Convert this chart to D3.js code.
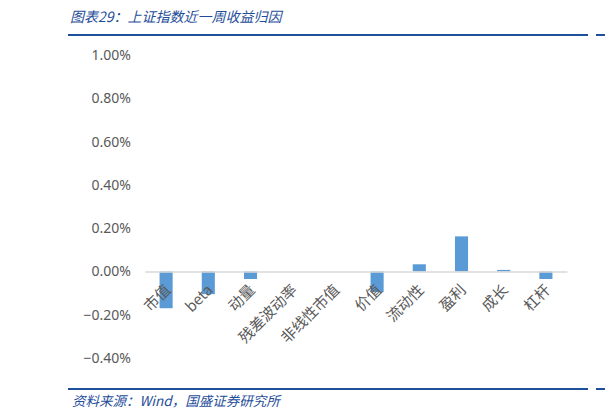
<!DOCTYPE html>
<html><head><meta charset="utf-8">
<script src="https://cdn.jsdelivr.net/npm/d3@7/dist/d3.min.js"></script>
<style>body{margin:0;background:#fff}svg{display:block}</style>
</head><body><svg id="c" width="605" height="420"></svg>
<script>
const categories = ["市值","beta","动量","残差波动率","非线性市值","价值","流动性","盈利","成长","杠杆"];
const values = [-0.17, -0.105, -0.035, 0, 0, -0.095, 0.033, 0.162, 0.007, -0.035];
const yTicks = [-0.4, -0.2, 0, 0.2, 0.4, 0.6, 0.8, 1.0];
const title = "图表29：上证指数近一周收益归因";
const source = "资料来源：Wind，国盛证券研究所";

const svg = d3.select("#c");
const font = "'Noto Sans CJK SC','Microsoft YaHei',sans-serif";
const blue = "#1F4E9A";

svg.append("text").attr("x",70).attr("y",22).attr("fill",blue)
  .attr("font-family",font).attr("font-size",14).attr("font-style","italic").text(title);
svg.append("line").attr("x1",68).attr("x2",588).attr("y1",35).attr("y2",35).attr("stroke",blue).attr("stroke-width",2);
svg.append("line").attr("x1",596).attr("x2",605).attr("y1",35).attr("y2",35).attr("stroke",blue).attr("stroke-width",2);
svg.append("line").attr("x1",68).attr("x2",588).attr("y1",389).attr("y2",389).attr("stroke",blue).attr("stroke-width",2);
svg.append("line").attr("x1",596).attr("x2",605).attr("y1",389).attr("y2",389).attr("stroke",blue).attr("stroke-width",2);
svg.append("text").attr("x",72).attr("y",406).attr("fill",blue)
  .attr("font-family",font).attr("font-size",13.5).attr("font-style","italic").text(source);

const x = d3.scaleBand().domain(categories).range([145,567]).paddingInner(0.69).paddingOuter(0.345);
const y = d3.scaleLinear().domain([-0.4,1.0]).range([358,55]);

const yAxis = svg.append("g").attr("transform","translate(131,0)")
  .call(d3.axisLeft(y).tickValues(yTicks).tickSize(0).tickPadding(0).tickFormat(d=>d3.format(".2f")(d)+"%"));
yAxis.select(".domain").remove();
yAxis.selectAll("text").attr("fill","#595959").attr("font-size",14).attr("font-family","'Noto Sans','DejaVu Sans',sans-serif");

svg.append("g").selectAll("rect").data(values).join("rect")
  .attr("x",(d,i)=>x(categories[i]))
  .attr("width",x.bandwidth())
  .attr("y",d=>y(Math.max(0,d)))
  .attr("height",d=>Math.abs(y(d)-y(0)))
  .attr("fill","#5B9BD5");

const xAxis = svg.append("g").attr("transform",`translate(0,${y(0)})`)
  .call(d3.axisBottom(x).tickSize(0).tickSizeOuter(0).tickPadding(0));
xAxis.select(".domain").attr("stroke","#D9D9D9").attr("stroke-width",1.5);
xAxis.selectAll("text")
  .attr("fill","#595959").attr("font-size",15).attr("font-family",font)
  .attr("text-anchor","end").attr("y",0).attr("dy","0.8em")
  .attr("transform","translate(-3,11) rotate(-45)");
</script></body></html>
